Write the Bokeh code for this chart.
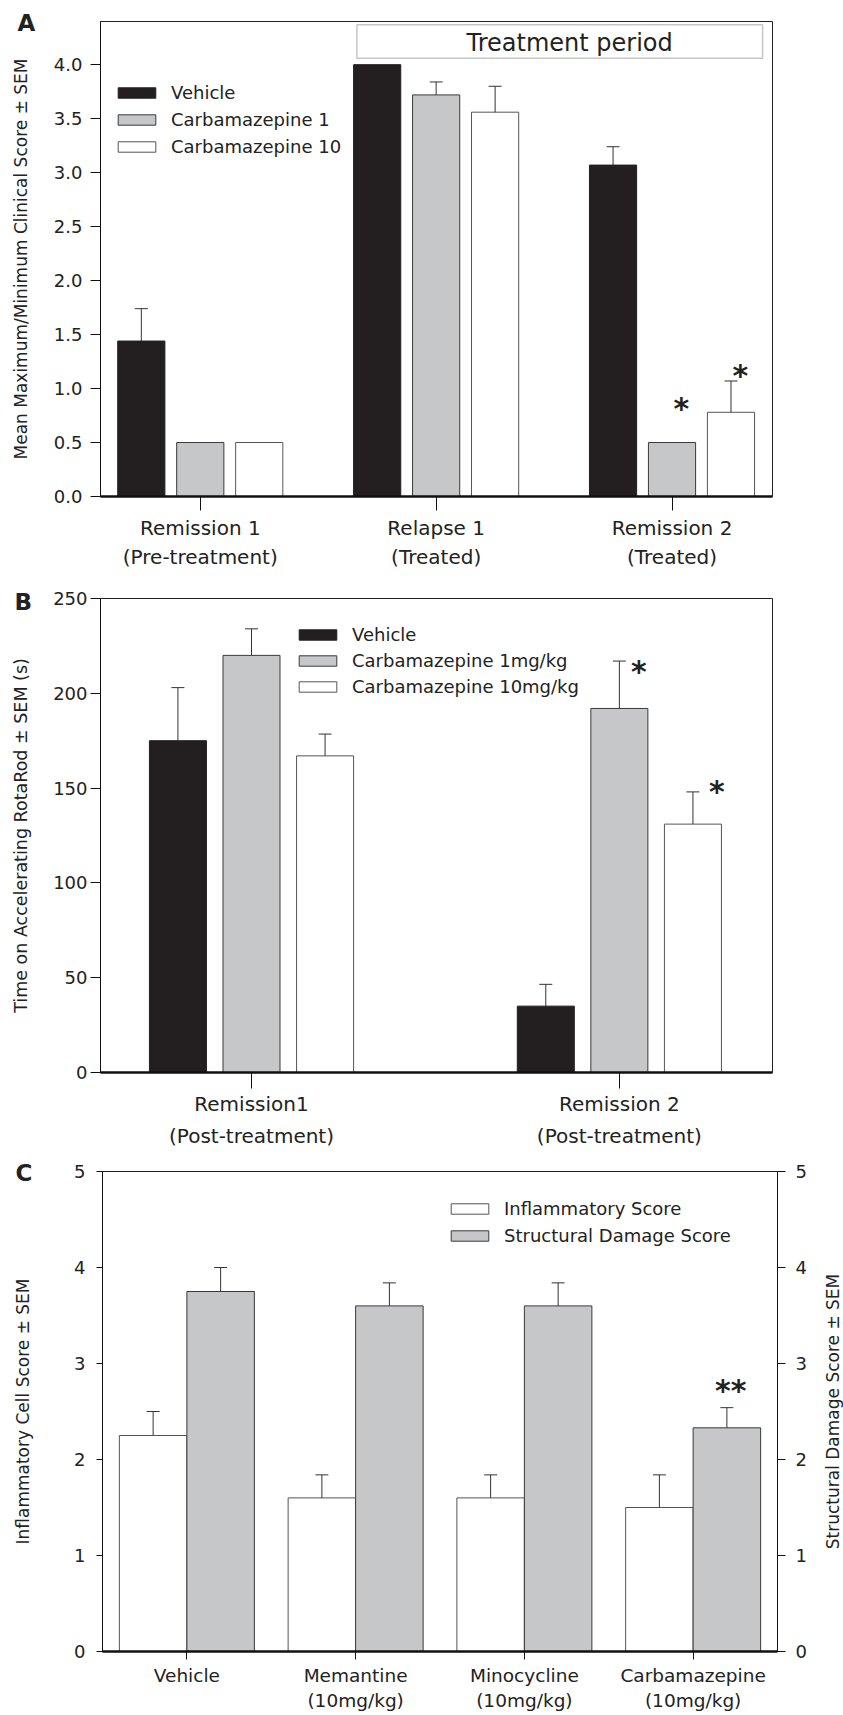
import numpy as np
from bokeh.plotting import figure
from bokeh.models import (ColumnDataSource, Whisker, TeeHead, Legend, LegendItem, FixedTicker,
                          Range1d, LinearAxis, Label, BoxAnnotation, PrintfTickFormatter, Title)
from bokeh.layouts import column, row
from bokeh.core.properties import value
from bokeh.embed import file_html
from bokeh.resources import INLINE

FONT = "DejaVu Sans"
BLACK = "#231f20"
GRAY = "#c6c7c9"
WHITE = "#ffffff"
EDGE = "#3a3a3a"

# ---------------- Panel A data ----------------
a_groups = ["Remission 1\n(Pre-treatment)", "Relapse 1\n(Treated)", "Remission 2\n(Treated)"]
a_series = ["Vehicle", "Carbamazepine 1", "Carbamazepine 10"]
a_vehicle = [1.44, 4.00, 3.07]
a_vehicle_sem = [0.30, 0.0, 0.17]
a_carb1 = [0.50, 3.72, 0.50]
a_carb1_sem = [0.0, 0.12, 0.0]
a_carb10 = [0.50, 3.56, 0.78]
a_carb10_sem = [0.0, 0.24, 0.29]
a_yticks = [0.0, 0.5, 1.0, 1.5, 2.0, 2.5, 3.0, 3.5, 4.0]
a_sig_x = [3.04, 3.29]
a_sig_y = [0.87, 1.18]
a_sig_text = ["*", "*"]

# ---------------- Panel B data ----------------
b_groups = ["Remission1\n(Post-treatment)", "Remission 2\n(Post-treatment)"]
b_series = ["Vehicle", "Carbamazepine 1mg/kg", "Carbamazepine 10mg/kg"]
b_vehicle = [175.0, 35.0]
b_vehicle_sem = [28.0, 11.5]
b_carb1 = [220.0, 192.0]
b_carb1_sem = [14.0, 25.0]
b_carb10 = [167.0, 131.0]
b_carb10_sem = [11.5, 17.0]
b_yticks = [0, 50, 100, 150, 200, 250]
b_sig_x = [2.053, 2.265]
b_sig_y = [214.6, 151.4]
b_sig_text = ["*", "*"]

# ---------------- Panel C data ----------------
c_groups = ["Vehicle", "Memantine\n(10mg/kg)", "Minocycline\n(10mg/kg)", "Carbamazepine\n(10mg/kg)"]
c_series = ["Inflammatory Score", "Structural Damage Score"]
c_inflam = [2.25, 1.60, 1.60, 1.50]
c_inflam_sem = [0.25, 0.24, 0.24, 0.34]
c_struct = [3.75, 3.60, 3.60, 2.33]
c_struct_sem = [0.25, 0.24, 0.24, 0.21]
c_yticks = [0, 1, 2, 3, 4, 5]
c_sig_x = [4.223]
c_sig_y = [2.785]
c_sig_text = ["**"]


def make_fig(width, height, xr, yr, left, right, top, bottom):
    p = figure(width=width, height=height, x_range=Range1d(*xr), y_range=Range1d(*yr),
               output_backend="svg", toolbar_location=None,
               min_border_left=left, min_border_right=right,
               min_border_top=top, min_border_bottom=bottom)
    p.xgrid.visible = False
    p.ygrid.visible = False
    p.outline_line_color = "#222222"
    p.outline_line_width = 1
    p.background_fill_color = "white"
    p.border_fill_color = "white"
    return p


def style_yaxis(ax, ticks, tick_out, standoff, label, label_standoff, fmt=None, label_size="17px"):
    ax.ticker = FixedTicker(ticks=ticks)
    if fmt:
        ax.formatter = PrintfTickFormatter(format=fmt)
    ax.major_tick_out = tick_out
    ax.major_tick_in = 0
    ax.minor_tick_line_color = None
    ax.axis_line_color = "#111111"
    ax.major_tick_line_color = "#111111"
    ax.major_label_text_font = FONT
    ax.major_label_text_font_size = "18px"
    ax.major_label_text_color = "#222222"
    ax.major_label_standoff = standoff
    if label:
        ax.axis_label = label
    ax.axis_label_text_font = FONT
    ax.axis_label_text_font_size = label_size
    ax.axis_label_text_font_style = "normal"
    ax.axis_label_text_color = "#222222"
    ax.axis_label_standoff = label_standoff


def style_xaxis(ax, groups, tick_out, standoff, size, line_height):
    ax.ticker = FixedTicker(ticks=list(range(1, len(groups) + 1)))
    ax.major_label_overrides = {i + 1: g for i, g in enumerate(groups)}
    ax.major_tick_out = tick_out
    ax.major_tick_in = 0
    ax.minor_tick_line_color = None
    ax.axis_line_color = "#111111"
    ax.axis_line_width = 2.5
    ax.major_tick_line_color = "#111111"
    ax.major_label_text_font = FONT
    ax.major_label_text_font_size = size
    ax.major_label_text_color = "#222222"
    ax.major_label_text_line_height = line_height
    ax.major_label_standoff = standoff


def add_bars(p, n, offset, width, vals, sems, fill, line):
    xs = np.arange(1, n + 1) + offset
    vals = np.asarray(vals, dtype=float)
    sems = np.asarray(sems, dtype=float)
    src = ColumnDataSource(dict(x=xs, top=vals))
    r = p.vbar(x="x", top="top", bottom=0, width=width, source=src,
               fill_color=fill, line_color=line, line_width=1)
    m = sems > 0
    if m.any():
        wsrc = ColumnDataSource(dict(base=xs[m], lower=vals[m], upper=(vals + sems)[m]))
        w = Whisker(source=wsrc, base="base", lower="lower", upper="upper", dimension="height",
                    line_color="#333333", line_width=1, lower_head=None,
                    upper_head=TeeHead(size=13, line_color="#333333", line_width=1),
                    level="glyph")
        p.add_layout(w)
    return r


def add_legend(p, items, loc, spacing):
    lg = Legend(items=items, location=loc, glyph_width=47, glyph_height=13,
                label_standoff=11, spacing=spacing, padding=0, margin=0,
                border_line_color=None, background_fill_alpha=0,
                label_text_font=FONT, label_text_font_size="18px",
                label_text_color="#222222", label_height=13)
    p.add_layout(lg)


def add_sig(p, xs, ys, texts, size):
    p.text(x=xs, y=ys, text=texts, text_font=value(FONT), text_font_style="bold",
           text_font_size=size, text_align="center", text_baseline="middle",
           y_offset=6, text_color="#222222")


def letter(p, t, offset, standoff):
    p.add_layout(Title(text=t, align="left", offset=offset, standoff=standoff,
                       text_font=FONT, text_font_style="bold", text_font_size="23px",
                       text_color="#222222"), "above")


# ================= Panel A =================
pA = make_fig(843, 580, (0.577, 3.426), (0, 4.4), 96, 71, 21, 84)
nA = len(a_groups)
rA1 = add_bars(pA, nA, -0.25, 0.2, a_vehicle, a_vehicle_sem, BLACK, BLACK)
rA2 = add_bars(pA, nA, 0.0, 0.2, a_carb1, a_carb1_sem, GRAY, EDGE)
rA3 = add_bars(pA, nA, 0.25, 0.2, a_carb10, a_carb10_sem, WHITE, "#555555")
style_yaxis(pA.yaxis[0], a_yticks, 10, 8, "Mean Maximum/Minimum Clinical Score \u00b1 SEM", 20, "%.1f")
style_xaxis(pA.xaxis[0], a_groups, 14, 5, "20px", 1.23)
add_legend(pA, [LegendItem(label=s, renderers=[r]) for s, r in zip(a_series, [rA1, rA2, rA3])],
           (13, 339), 6)
pA.add_layout(BoxAnnotation(left=1.664, right=3.384, bottom=4.06, top=4.37,
                            fill_color="white", fill_alpha=1, line_color="#444444",
                            line_width=1.5, level="annotation"))
pA.add_layout(Label(x=2.566, y=4.20, text="Treatment period", text_font=FONT,
                    text_font_size="24px", text_align="center", text_baseline="middle",
                    text_color="#222222"))
add_sig(pA, a_sig_x, a_sig_y, a_sig_text, "30px")
letter(pA, "A", -83, -28.8)

# ================= Panel B =================
pB = make_fig(843, 570, (0.5895, 2.4163), (0, 250), 100, 59, 18, 77)
nB = len(b_groups)
rB1 = add_bars(pB, nB, -0.2, 0.155, b_vehicle, b_vehicle_sem, BLACK, BLACK)
rB2 = add_bars(pB, nB, 0.0, 0.155, b_carb1, b_carb1_sem, GRAY, EDGE)
rB3 = add_bars(pB, nB, 0.2, 0.155, b_carb10, b_carb10_sem, WHITE, "#555555")
style_yaxis(pB.yaxis[0], b_yticks, 10, 3, "Time on Accelerating RotaRod \u00b1 SEM (s)", 19,
            label_size="17.5px")
style_xaxis(pB.xaxis[0], b_groups, 16, 3, "20px", 1.34)
add_legend(pB, [LegendItem(label=s, renderers=[r]) for s, r in zip(b_series, [rB1, rB2, rB3])],
           (194, 375), 5)
add_sig(pB, b_sig_x, b_sig_y, b_sig_text, "30px")
letter(pB, "B", -86, -33.4)

# ================= Panel C =================
pC = make_fig(815, 565, (0.5, 4.5), (0, 5), 102, 38, 21, 64)
nC = len(c_groups)
rC1 = add_bars(pC, nC, -0.2, 0.4, c_inflam, c_inflam_sem, WHITE, "#555555")
rC2 = add_bars(pC, nC, 0.2, 0.4, c_struct, c_struct_sem, GRAY, EDGE)
style_yaxis(pC.yaxis[0], c_yticks, 6, 11, "Inflammatory Cell Score \u00b1 SEM", 38)
right_ax = LinearAxis()
pC.add_layout(right_ax, "right")
style_yaxis(right_ax, c_yticks, 8, 10, None, 0)
style_xaxis(pC.xaxis[0], c_groups, 8, 5, "18.5px", 1.23)
add_legend(pC, [LegendItem(label=s, renderers=[r]) for s, r in zip(c_series, [rC1, rC2])],
           (344, 405), 6)
add_sig(pC, c_sig_x, c_sig_y, c_sig_text, "30px")
letter(pC, "C", -87, -29.4)

# narrow companion figure that carries the right-hand axis title of panel C
pR = figure(width=28, height=565, x_range=Range1d(0, 1), y_range=Range1d(0, 5),
            output_backend="svg", toolbar_location=None,
            min_border_left=27, min_border_right=0, min_border_top=21, min_border_bottom=64)
pR.xaxis.visible = False
pR.xgrid.visible = False
pR.ygrid.visible = False
pR.outline_line_color = None
pR.background_fill_color = "white"
pR.border_fill_color = "white"
ax_r = pR.yaxis[0]
ax_r.ticker = FixedTicker(ticks=[])
ax_r.axis_line_color = None
ax_r.major_tick_line_color = None
ax_r.minor_tick_line_color = None
ax_r.major_tick_out = 0
ax_r.major_label_standoff = 0
ax_r.axis_label = "Structural Damage Score \u00b1 SEM"
ax_r.axis_label_text_font = FONT
ax_r.axis_label_text_font_size = "17px"
ax_r.axis_label_text_font_style = "normal"
ax_r.axis_label_text_color = "#222222"
ax_r.axis_label_standoff = 0

layout = column(pA, pB, row(pC, pR, spacing=0), spacing=0)
open("out.html", "w").write(file_html(layout, INLINE))
